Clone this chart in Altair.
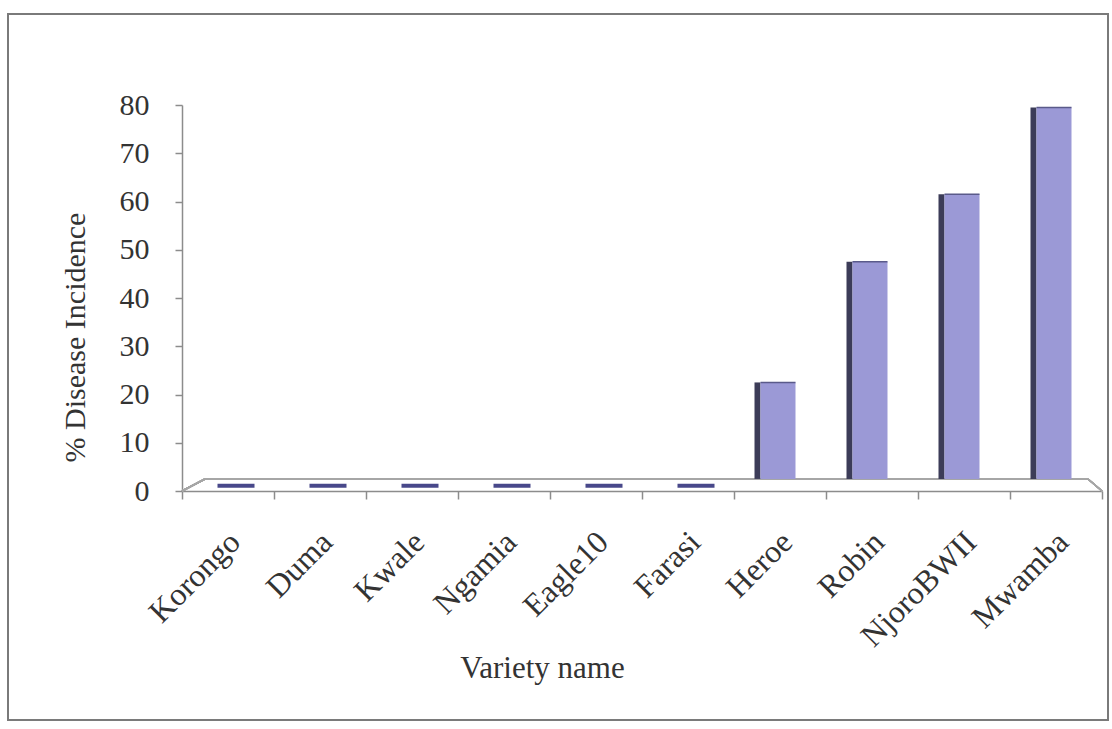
import altair as alt
import pandas as pd

# Varieties and their % disease incidence
varieties = ["Korongo", "Duma", "Kwale", "Ngamia", "Eagle10",
             "Farasi", "Heroe", "Robin", "NjoroBWII", "Mwamba"]
incidence = [0, 0, 0, 0, 0, 0, 20, 45, 59, 77]
y_ticks = [0, 10, 20, 30, 40, 50, 60, 70, 80]

df = pd.DataFrame({"variety": varieties, "incidence": incidence})

FONT = "Liberation Serif"
TEXT = "#333333"
FACE = "#9b99d6"
SIDE = "#3c3c58"
SLAB = "#48488a"
LINE = "#8c8c8c"
DEPTH = 2.5  # raise of the back floor edge, in axis units

W, H = 920, 386

x_enc = alt.X(
    "variety:N", sort=varieties, title="Variety name",
    scale=alt.Scale(paddingInner=0, paddingOuter=0),
    axis=alt.Axis(
        labelAngle=-45, labelAlign="right", labelBaseline="top",
        labelFont=FONT, labelFontSize=32, labelColor=TEXT,
        labelPadding=27, labelOffset=-4,
        tickBand="extent", tickSize=8, tickColor=LINE, tickWidth=1.5,
        domainColor=LINE, domainWidth=1.5,
        titleFont=FONT, titleFontSize=31, titleFontWeight="normal",
        titleColor=TEXT, titleX=360, titleY=177,
        titleAlign="center", titleBaseline="middle",
    ),
)

y_scale = alt.Scale(domain=[0, 80], nice=False)
y_axis = alt.Axis(
    values=y_ticks, grid=False,
    labelFont=FONT, labelFontSize=30, labelColor=TEXT, labelPadding=26,
    tickSize=7, tickColor=LINE, tickWidth=1.5,
    domainColor=LINE, domainWidth=1.5,
    title="% Disease Incidence",
    titleFont=FONT, titleFontSize=30, titleFontWeight="normal",
    titleColor=TEXT, titleX=-107, titleY=232,
    titleAlign="center", titleBaseline="middle", titleAngle=270,
)

base = alt.Chart(df).transform_calculate(
    top=f"datum.incidence + {DEPTH}", floor=f"{DEPTH}", floor_mid="1.1"
)

# outer frame around the whole figure
frame = alt.Chart(df).mark_rect(
    fill=None, stroke="#7a7a7a", strokeWidth=2
).encode(
    x=alt.value(-174), x2=alt.value(926),
    y=alt.value(-91), y2=alt.value(615),
)

# floor outline of the 3-D plot area
floor_back = alt.Chart(df).mark_rule(color="#a6a6a6", strokeWidth=1.5).encode(
    x=alt.value(23), x2=alt.value(906), y=alt.value(H - 12), y2=alt.value(H - 12)
)
floor_left = alt.Chart(df).mark_rule(color="#a6a6a6", strokeWidth=1.5).encode(
    x=alt.value(0), x2=alt.value(23), y=alt.value(H), y2=alt.value(H - 12)
)
floor_right = alt.Chart(df).mark_rule(color="#a6a6a6", strokeWidth=1.5).encode(
    x=alt.value(906), x2=alt.value(W), y=alt.value(H - 12), y2=alt.value(H)
)

side = base.transform_filter("datum.incidence > 0").mark_bar(
    size=6, xOffset=-22.5, color=SIDE, opacity=1
).encode(
    x=x_enc,
    y=alt.Y("top:Q", scale=y_scale, axis=y_axis),
    y2="floor:Q",
)

face = base.transform_filter("datum.incidence > 0").mark_bar(
    size=35, xOffset=-2, color=FACE, opacity=1
).encode(
    x=x_enc,
    y=alt.Y("top:Q", scale=y_scale, axis=y_axis),
    y2="floor:Q",
)

# thin dark top edge of each column
cap = base.transform_filter("datum.incidence > 0").mark_tick(
    size=35, thickness=1.5, xOffset=-2, color="#5a5a8a", opacity=1
).encode(
    x=x_enc,
    y=alt.Y("top:Q", scale=y_scale, axis=y_axis),
)

# zero-height columns show only their flat top on the floor
slab = base.transform_filter("datum.incidence == 0").mark_tick(
    size=37, thickness=4, xOffset=8, color=SLAB, opacity=1
).encode(
    x=x_enc,
    y=alt.Y("floor_mid:Q", scale=y_scale, axis=y_axis),
)

chart = alt.layer(
    frame, floor_back, floor_left, floor_right, side, face, cap, slab
).properties(
    width=W, height=H,
    autosize=alt.AutoSizeParams(type="none"),
    padding={"left": 182, "top": 105, "right": 10, "bottom": 238},
    background="white",
).configure_view(stroke=None)

chart.save("out.html", embed_options={"renderer": "svg", "actions": False})
